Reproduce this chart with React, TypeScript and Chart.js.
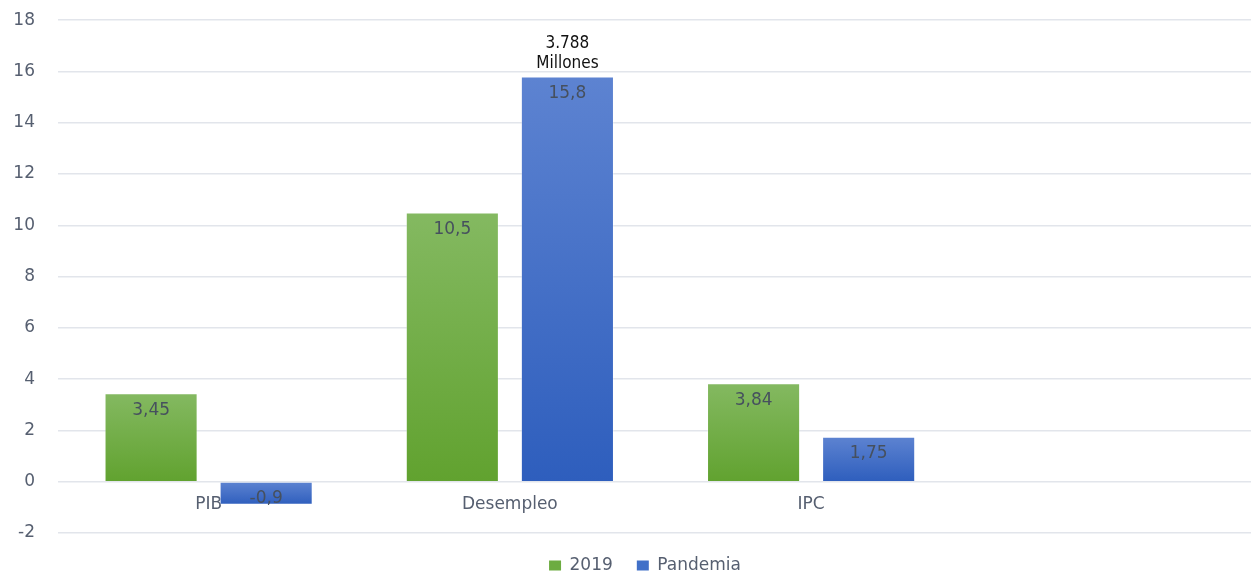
import React, { useEffect, useRef } from 'react';
import { Chart, registerables } from 'chart.js';

Chart.register(...registerables);

// ---- data ----
const categories = ['PIB', 'Desempleo', 'IPC', ''];
const series2019 = [3.45, 10.5, 3.84, null];
const seriesPandemia = [-0.9, 15.8, 1.75, null];
const seriesNames = ['2019', 'Pandemia'];
const yMin = -2;
const yMax = 18;
const yStep = 2;
const noteLines = ['3.788', 'Millones'];
const noteDataset = 1;
const noteIndex = 1;

// ---- styles ----
const greenTop = '#84b961';
const greenBottom = '#61a22f';
const blueTop = '#5d83d1';
const blueBottom = '#2e5ebd';
const legendGreen = '#6dac41';
const legendBlue = '#4170c8';
const tickColor = '#565f70';
const labelColor = '#46505e';
const gridColor = '#e2e5eb';
const mainFont = '"DejaVu Sans", Verdana, sans-serif';

function gradientFill(top: string, bottom: string) {
  return (c: any) => {
    const chart = c.chart;
    const area = chart.chartArea;
    const y = chart.scales && chart.scales.y;
    if (!area || !y || c.type !== 'data' || c.raw == null) return bottom;
    const p0 = y.getPixelForValue(0);
    const p1 = y.getPixelForValue(c.raw);
    if (!isFinite(p0) || !isFinite(p1) || p0 === p1) return bottom;
    const g = chart.ctx.createLinearGradient(0, Math.min(p0, p1), 0, Math.max(p0, p1));
    g.addColorStop(0, top);
    g.addColorStop(1, bottom);
    return g;
  };
}

const legendShift = {
  id: 'legendShift',
  afterLayout(chart: any) {
    const lg = chart.legend;
    if (lg) {
      lg.left += 8.5;
      lg.right += 8.5;
    }
  },
};

const valueLabels = {
  id: 'valueLabels',
  afterDatasetsDraw(chart: any) {
    const ctx = chart.ctx;
    ctx.save();
    ctx.font = `17px ${mainFont}`;
    ctx.fillStyle = labelColor;
    ctx.textAlign = 'center';
    ctx.textBaseline = 'middle';
    chart.data.datasets.forEach((ds: any, di: number) => {
      const meta = chart.getDatasetMeta(di);
      meta.data.forEach((el: any, i: number) => {
        const v = ds.data[i];
        if (v == null) return;
        const txt = String(v).replace('.', ',');
        const y = v >= 0 ? el.y + 17 : el.y - 6;
        ctx.fillText(txt, el.x, y);
      });
    });
    // annotation above the bar
    const el = chart.getDatasetMeta(noteDataset).data[noteIndex];
    if (el) {
      ctx.font = '17px "DejaVu Sans Condensed", "Liberation Sans", Arial, sans-serif';
      ctx.fillStyle = '#111111';
      const n = noteLines.length;
      noteLines.forEach((line, k) => {
        ctx.fillText(line, el.x, el.y - 13 - (n - 1 - k) * 20);
      });
    }
    ctx.restore();
  },
};

export default function App() {
  const ref = useRef<HTMLCanvasElement | null>(null);

  useEffect(() => {
    document.body.style.margin = '0';
    document.body.style.overflow = 'hidden';
    if (!ref.current) return;
    const chart = new Chart(ref.current, {
      type: 'bar',
      data: {
        labels: categories,
        datasets: [
          {
            label: seriesNames[0],
            data: series2019 as any,
            backgroundColor: gradientFill(greenTop, greenBottom) as any,
            borderColor: 'rgba(255,255,255,0.3)',
            borderWidth: 1,
            categoryPercentage: 0.764,
            barPercentage: 0.809,
          },
          {
            label: seriesNames[1],
            data: seriesPandemia as any,
            backgroundColor: gradientFill(blueTop, blueBottom) as any,
            borderColor: 'rgba(255,255,255,0.3)',
            borderWidth: 1,
            categoryPercentage: 0.764,
            barPercentage: 0.809,
          },
        ],
      },
      options: {
        animation: false,
        responsive: true,
        maintainAspectRatio: false,
        layout: { padding: { top: 7, left: 10, right: 27, bottom: 0 } },
        scales: {
          x: {
            axis: 'x',
            type: 'category',
            position: { y: 0 } as any,
            z: 1,
            grid: { display: false },
            border: { display: false },
            ticks: {
              color: tickColor,
              font: { family: mainFont, size: 17 },
              padding: 5,
              maxRotation: 0,
            },
          } as any,
          y: {
            min: yMin,
            max: yMax,
            grid: { color: gridColor, lineWidth: 1.5, drawTicks: false },
            border: { display: false },
            ticks: {
              stepSize: yStep,
              color: tickColor,
              font: { family: mainFont, size: 17 },
              padding: 23,
            },
            afterFit(scale: any) {
              scale.width = 48;
            },
          },
        },
        plugins: {
          tooltip: { enabled: false },
          legend: {
            position: 'bottom',
            maxHeight: 38,
            labels: {
              color: tickColor,
              font: { family: mainFont, size: 17 },
              boxWidth: 12,
              boxHeight: 10,
              padding: 24,
              generateLabels(ch: any) {
                const items = Chart.defaults.plugins.legend.labels.generateLabels(ch);
                const cols = [legendGreen, legendBlue];
                items.forEach((it: any, i: number) => {
                  it.fillStyle = cols[i];
                  it.strokeStyle = cols[i];
                  it.lineWidth = 0;
                });
                return items;
              },
            },
          },
        },
      },
      plugins: [valueLabels, legendShift],
    });
    return () => chart.destroy();
  }, []);

  return (
    <div style={{ width: 1290, height: 584, marginTop: -13, position: 'relative' }}>
      <canvas ref={ref} />
    </div>
  );
}
